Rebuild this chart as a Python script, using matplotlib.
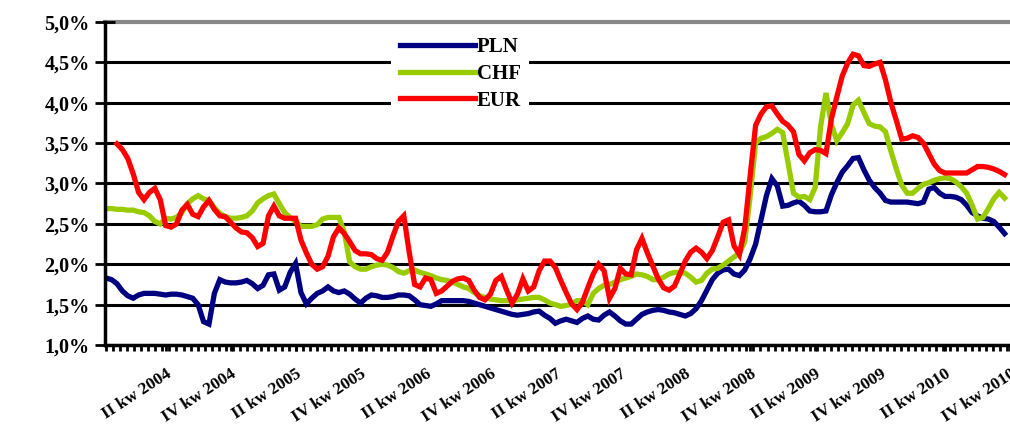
import numpy as np
import matplotlib
matplotlib.use('Agg')
import matplotlib.pyplot as plt
from matplotlib.ticker import MultipleLocator, FixedLocator

plt.rcParams['font.family'] = ['Liberation Serif', 'DejaVu Serif']
plt.rcParams['font.weight'] = 'bold'

# etykiety kwartalne (co pol roku)
quarter_labels = ['II kw 2004', 'IV kw 2004', 'II kw 2005', 'IV kw 2005',
                  'II kw 2006', 'IV kw 2006', 'II kw 2007', 'IV kw 2007',
                  'II kw 2008', 'IV kw 2008', 'II kw 2009', 'IV kw 2009',
                  'II kw 2010', 'IV kw 2010']

# oprocentowanie, dane co pol miesiaca [%]
pln = [1.83, 1.81, 1.76, 1.67, 1.61, 1.58, 1.62, 1.64, 1.64, 1.64,
       1.63, 1.62, 1.63, 1.63, 1.62, 1.60, 1.58, 1.50, 1.29, 1.26,
       1.64, 1.81, 1.78, 1.77, 1.77, 1.78, 1.80, 1.76, 1.70, 1.74,
       1.87, 1.88, 1.68, 1.72, 1.90, 2.01, 1.65, 1.51, 1.58, 1.64,
       1.67, 1.72, 1.67, 1.65, 1.67, 1.63, 1.57, 1.52, 1.58, 1.62,
       1.61, 1.59, 1.59, 1.60, 1.62, 1.62, 1.61, 1.56, 1.50, 1.49,
       1.48, 1.51, 1.55, 1.55, 1.55, 1.55, 1.55, 1.54, 1.52, 1.50,
       1.48, 1.46, 1.44, 1.42, 1.40, 1.38, 1.37, 1.38, 1.39, 1.41,
       1.42, 1.37, 1.33, 1.27, 1.30, 1.32, 1.30, 1.28, 1.33, 1.36,
       1.32, 1.31, 1.37, 1.41, 1.36, 1.30, 1.26, 1.26, 1.32, 1.38,
       1.41, 1.43, 1.44, 1.43, 1.41, 1.40, 1.38, 1.36, 1.39, 1.45,
       1.55, 1.68, 1.81, 1.89, 1.93, 1.94, 1.88, 1.86, 1.93, 2.07,
       2.25, 2.55, 2.85, 3.06, 2.97, 2.72, 2.73, 2.76, 2.78, 2.73,
       2.66, 2.65, 2.65, 2.66, 2.86, 3.01, 3.14, 3.22, 3.31, 3.32,
       3.17, 3.04, 2.95, 2.88, 2.79, 2.77, 2.77, 2.77, 2.77, 2.76,
       2.75, 2.77, 2.93, 2.95, 2.88, 2.84, 2.84, 2.83, 2.80, 2.73,
       2.64, 2.60, 2.57, 2.56, 2.53, 2.46, 2.38]

chf = [2.69, 2.69, 2.68, 2.68, 2.67, 2.67, 2.65, 2.64, 2.60, 2.53,
       2.50, 2.57, 2.56, 2.58, 2.64, 2.75, 2.81, 2.85, 2.81, 2.79,
       2.70, 2.63, 2.59, 2.57, 2.57, 2.58, 2.60, 2.66, 2.76, 2.81,
       2.85, 2.87, 2.75, 2.64, 2.58, 2.53, 2.47, 2.47, 2.47, 2.49,
       2.56, 2.58, 2.58, 2.58, 2.40, 2.03, 1.97, 1.94, 1.94, 1.97,
       1.99, 2.00, 1.99, 1.96, 1.91, 1.89, 1.92, 1.93, 1.90, 1.88,
       1.86, 1.83, 1.81, 1.80, 1.78, 1.75, 1.72, 1.70, 1.65, 1.61,
       1.59, 1.57, 1.56, 1.55, 1.55, 1.55, 1.56, 1.57, 1.58, 1.59,
       1.59, 1.56, 1.52, 1.50, 1.48, 1.49, 1.51, 1.55, 1.55, 1.50,
       1.64, 1.70, 1.74, 1.75, 1.78, 1.81, 1.83, 1.85, 1.88, 1.87,
       1.85, 1.81, 1.81, 1.84, 1.88, 1.90, 1.90, 1.89, 1.84, 1.78,
       1.80, 1.89, 1.94, 1.95, 1.99, 2.04, 2.09, 2.14, 2.28, 2.85,
       3.50, 3.56, 3.58, 3.62, 3.67, 3.63, 3.25, 2.88, 2.83, 2.84,
       2.80, 2.95, 3.70, 4.12, 3.73, 3.53, 3.63, 3.74, 3.97, 4.03,
       3.88, 3.74, 3.71, 3.70, 3.64, 3.40, 3.18, 2.98, 2.88, 2.88,
       2.94, 2.99, 3.01, 3.04, 3.06, 3.07, 3.06, 3.02, 2.96, 2.88,
       2.73, 2.56, 2.58, 2.69, 2.81, 2.89, 2.82]

eur = [np.nan, np.nan, 3.49, 3.42, 3.31, 3.12, 2.89, 2.80, 2.89, 2.94,
       2.80, 2.48, 2.46, 2.50, 2.67, 2.74, 2.62, 2.59, 2.71, 2.79,
       2.68, 2.60, 2.59, 2.52, 2.45, 2.40, 2.39, 2.33, 2.22, 2.26,
       2.60, 2.72, 2.60, 2.57, 2.57, 2.57, 2.30, 2.14, 2.00, 1.94,
       1.97, 2.10, 2.34, 2.45, 2.38, 2.28, 2.17, 2.13, 2.13, 2.12,
       2.07, 2.05, 2.15, 2.35, 2.53, 2.60, 2.15, 1.75, 1.72, 1.83,
       1.81, 1.64, 1.67, 1.73, 1.79, 1.82, 1.83, 1.80, 1.68, 1.59,
       1.56, 1.63, 1.80, 1.85, 1.68, 1.52, 1.63, 1.82, 1.67, 1.72,
       1.92, 2.04, 2.04, 1.96, 1.80, 1.65, 1.51, 1.44, 1.53, 1.71,
       1.88, 2.00, 1.92, 1.58, 1.70, 1.95, 1.88, 1.87, 2.18, 2.32,
       2.14, 1.98, 1.82, 1.71, 1.68, 1.73, 1.88, 2.04, 2.15, 2.20,
       2.15, 2.07, 2.17, 2.34, 2.52, 2.55, 2.23, 2.12, 2.45, 3.10,
       3.72, 3.86, 3.95, 3.96, 3.86, 3.77, 3.72, 3.64, 3.36, 3.28,
       3.38, 3.42, 3.41, 3.37, 3.80, 4.07, 4.33, 4.49, 4.60, 4.58,
       4.46, 4.45, 4.48, 4.50, 4.28, 4.00, 3.78, 3.55, 3.56, 3.59,
       3.57, 3.50, 3.37, 3.24, 3.16, 3.13, 3.13, 3.13, 3.13, 3.13,
       3.17, 3.21, 3.21, 3.20, 3.18, 3.15, 3.11]

y_ticks = [1.0, 1.5, 2.0, 2.5, 3.0, 3.5, 4.0, 4.5, 5.0]

x = np.arange(len(pln))

fig = plt.figure(figsize=(10.1, 4.47), dpi=100)
ax = fig.add_axes([0.104, 0.228, 0.896, 0.723])

ax.plot(x, pln, color='#000080', lw=3.8, label='PLN', solid_joinstyle='miter')
ax.plot(x, chf, color='#99CC00', lw=3.8, label='CHF', solid_joinstyle='miter')
ax.plot(x, eur, color='#FF0000', lw=3.8, label='EUR', solid_joinstyle='miter')

ax.set_ylim(1.0, 5.0)
ax.set_xlim(-0.2, 167)
ax.set_yticks(y_ticks)
ax.set_yticklabels([f"{v:.1f}%".replace('.', ',') for v in y_ticks],
                   fontsize=14.5, fontweight='bold')
ax.yaxis.grid(True, color='black', lw=2.2)
ax.set_axisbelow(True)
top_line = ax.yaxis.get_gridlines()[-1]
top_line.set_color('#888888')
top_line.set_linewidth(3)
top_line.set_clip_on(False)

# co pol roku etykieta
ax.xaxis.set_major_locator(FixedLocator(11 + 12 * np.arange(len(quarter_labels))))
ax.set_xticklabels(quarter_labels, rotation=33, ha='right',
                   rotation_mode='anchor', fontsize=12.5, fontweight='bold')
ax.xaxis.set_minor_locator(MultipleLocator(1.3))

ax.tick_params(axis='y', direction='inout', length=14, width=2, pad=4)
ax.tick_params(axis='x', which='both', direction='out', length=4, width=2, pad=11)

for s in ['top', 'right']:
    ax.spines[s].set_visible(False)
ax.spines['left'].set_linewidth(2.5)
ax.spines['bottom'].set_linewidth(2.5)

# legenda na bialym tle (zaslania siatke)
leg = ax.legend(loc='upper left', bbox_to_anchor=(0.305, 1.01), frameon=True,
                facecolor='white', edgecolor='none', framealpha=1, fancybox=False,
                handlelength=3.6, handletextpad=0.1, labelspacing=0.32,
                prop={'size': 15, 'weight': 'bold'})

fig.savefig('out.png', dpi=100)
